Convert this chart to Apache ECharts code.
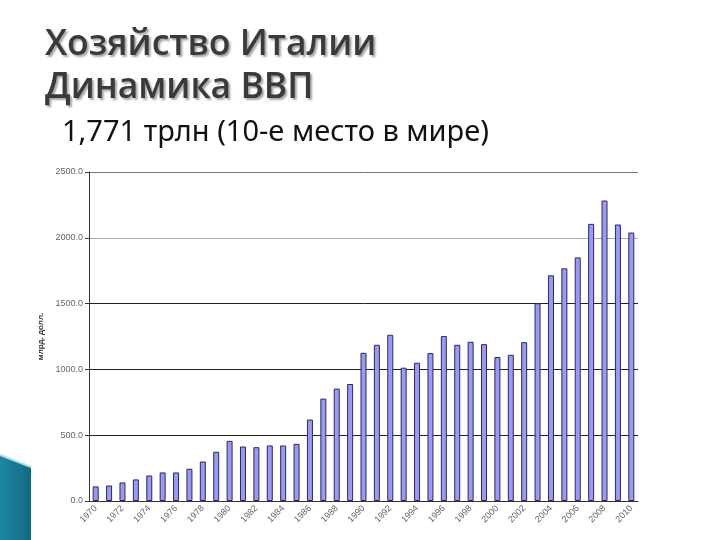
<!DOCTYPE html>
<html>
<head>
<meta charset="utf-8">
<script src="https://cdn.jsdelivr.net/npm/echarts@6/dist/echarts.min.js"></script>
<style>html,body{margin:0;padding:0;background:#fff;}#c{width:720px;height:540px;}</style>
</head>
<body>
<div id="c"></div>
<script>
const years = ['1970','1971','1972','1973','1974','1975','1976','1977','1978','1979','1980','1981','1982','1983','1984','1985','1986','1987','1988','1989','1990','1991','1992','1993','1994','1995','1996','1997','1998','1999','2000','2001','2002','2003','2004','2005','2006','2007','2008','2009','2010'];
const gdp = [111,118,141,164,194,217,217,245,300,374,457,414,409,422,422,434,619,778,854,889,1126,1187,1263,1013,1051,1124,1253,1187,1210,1192,1094,1111,1207,1503,1715,1768,1851,2106,2283,2101,2040];
const yTicks = [0,500,1000,1500,2000,2500];
const titleText = 'Хозяйство Италии\nДинамика ВВП';
const subtitleText = '1,771 трлн (10-е место в мире)';
const yName = 'млрд. долл.';

const chart = echarts.init(document.getElementById('c'));
chart.setOption({
  animation: false,
  backgroundColor: '#ffffff',
  title: [{
    text: titleText,
    left: 40, top: 18,
    textStyle: {
      fontFamily: 'Open Sans', fontWeight: 600, fontSize: 35.5, lineHeight: 43,
      color: '#3a3a3a',
      textShadowColor: 'rgba(0,0,0,0.35)', textShadowBlur: 2, textShadowOffsetX: 2, textShadowOffsetY: 2
    }
  }, {
    text: subtitleText,
    left: 57, top: 113,
    textStyle: { fontFamily: 'Noto Sans', fontWeight: 'normal', fontSize: 29, color: '#111' }
  }],
  graphic: [{
    type: 'polygon',
    shape: { points: [[0,455],[31,467],[31,540],[0,540]] },
    style: {
      fill: new echarts.graphic.LinearGradient(0,0,1,0,[{offset:0,color:'#1f86a2'},{offset:1,color:'#136a82'}])
    }
  }, {
    type: 'polyline',
    shape: { points: [[0,455],[31,467]] },
    style: { stroke: '#b7dbe6', lineWidth: 2 }
  }],
  grid: { left: 89, right: 82, top: 172, bottom: 39, containLabel: false },
  xAxis: {
    type: 'category',
    data: years,
    axisLine: { lineStyle: { color: '#333', width: 1 } },
    axisTick: { interval: 0, length: 3, lineStyle: { color: '#333' } },
    axisLabel: { interval: 1, rotate: 45, fontSize: 9, color: '#666', fontFamily: 'Liberation Sans', margin: 6 },
    splitLine: { show: false }
  },
  yAxis: {
    type: 'value',
    min: 0, max: 2500, interval: 500,
    name: yName,
    nameLocation: 'middle',
    nameGap: 36,
    nameTextStyle: { fontSize: 8, fontWeight: 'bold', color: '#333', fontFamily: 'Liberation Sans' },
    axisLine: { show: true, lineStyle: { color: '#333' } },
    axisTick: { show: true, length: 4, lineStyle: { color: '#333' } },
    axisLabel: {
      fontSize: 9, color: '#666', fontFamily: 'Liberation Sans', margin: 6,
      formatter: v => String(v) + '.0'
    },
    splitLine: { show: true, lineStyle: { color: ['#222','#222','#222','#222','#aaaaaa','#777777'], width: 1 } }
  },
  series: [{
    type: 'bar',
    data: gdp,
    barWidth: 6,
    itemStyle: { color: '#9a9af2', borderColor: '#2a2a5a', borderWidth: 1 }
  }]
});
</script>
</body>
</html>
